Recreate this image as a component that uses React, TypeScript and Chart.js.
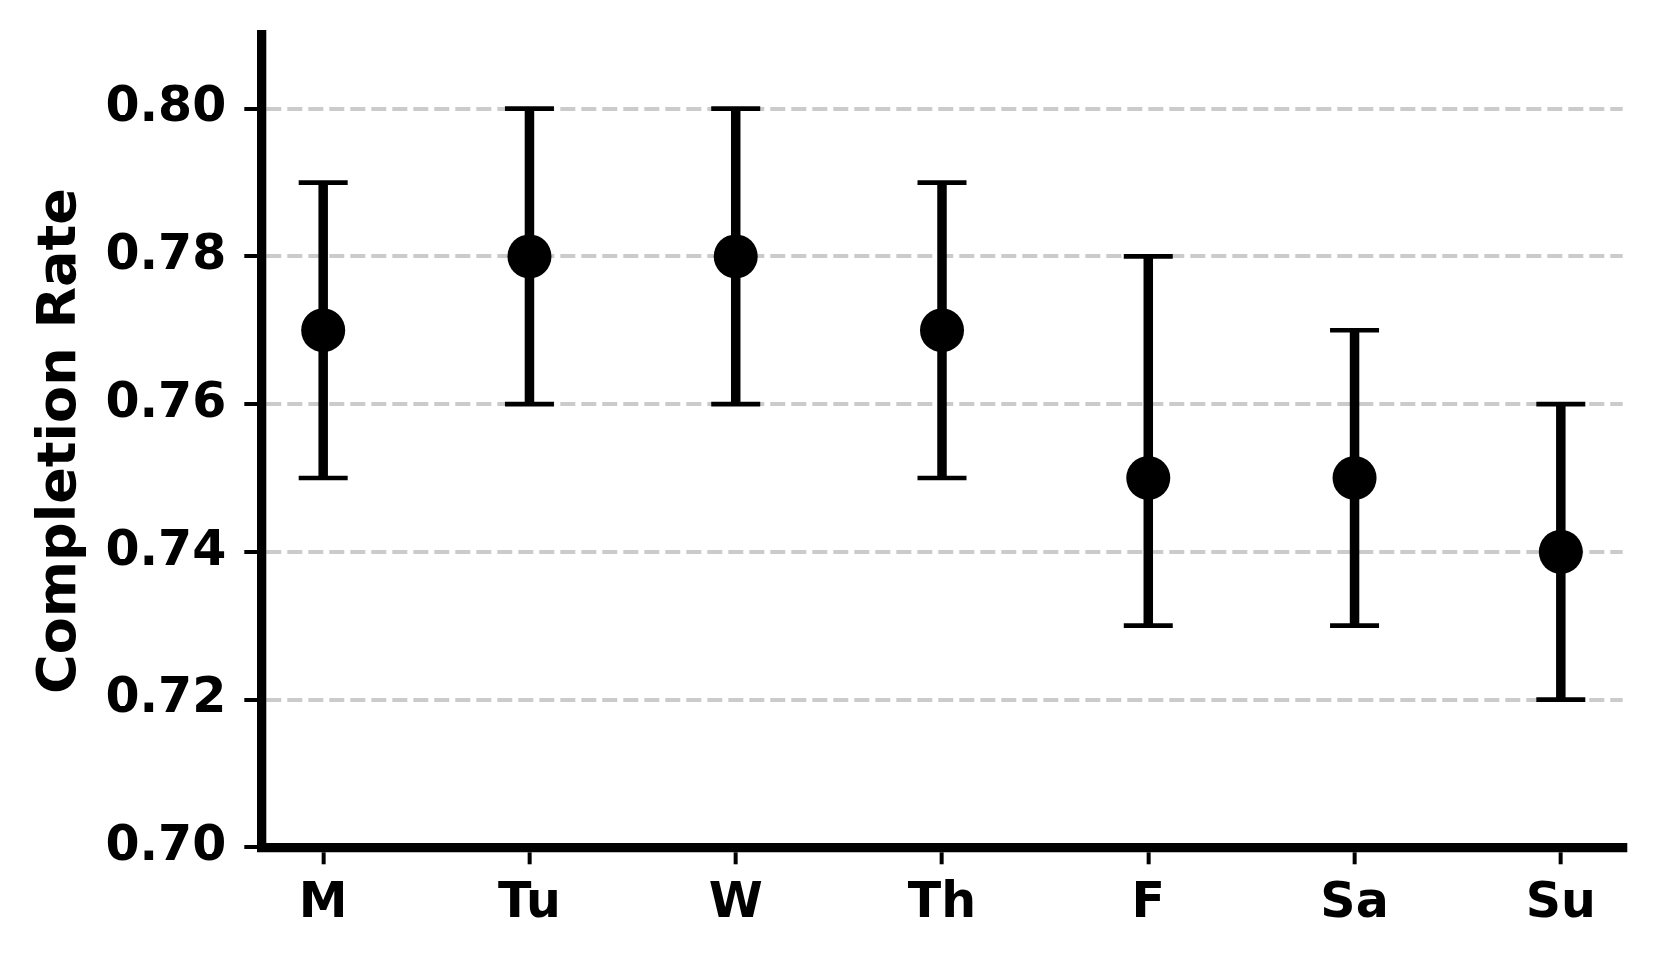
import React, { useEffect, useRef } from "react";
import { Chart, registerables } from "chart.js";

Chart.register(...registerables);

const days = ["M", "Tu", "W", "Th", "F", "Sa", "Su"];
const means = [0.77, 0.78, 0.78, 0.77, 0.75, 0.75, 0.74];
const lows = [0.75, 0.76, 0.76, 0.75, 0.73, 0.73, 0.72];
const highs = [0.79, 0.8, 0.8, 0.79, 0.78, 0.77, 0.76];
const yTicks = [0.7, 0.72, 0.74, 0.76, 0.78, 0.8];
const yMin = 0.7;
const yMax = 0.81;
const xMin = -0.3;
const xMax = 6.3;
const yTitle = "Completion Rate";

const FONT = "'DejaVu Sans', 'Liberation Sans', sans-serif";

const errorBarPlugin = {
  id: "errorBars",
  beforeDatasetsDraw(chart: any) {
    const { ctx } = chart;
    const x = chart.scales.x;
    const y = chart.scales.y;
    ctx.save();
    ctx.strokeStyle = "#000";
    ctx.lineCap = "butt";
    days.forEach((_, i) => {
      const px = x.getPixelForValue(i);
      const pl = y.getPixelForValue(lows[i]);
      const ph = y.getPixelForValue(highs[i]);
      ctx.lineWidth = 9.5;
      ctx.beginPath();
      ctx.moveTo(px, pl);
      ctx.lineTo(px, ph);
      ctx.stroke();
      ctx.lineWidth = 4.7;
      [pl, ph].forEach((py) => {
        ctx.beginPath();
        ctx.moveTo(px - 24.5, py);
        ctx.lineTo(px + 24.5, py);
        ctx.stroke();
      });
    });
    ctx.restore();
  },
};

export default function App() {
  const canvasRef = useRef<HTMLCanvasElement | null>(null);

  useEffect(() => {
    if (!canvasRef.current) return;
    const chart = new Chart(canvasRef.current, {
      type: "scatter",
      data: {
        datasets: [
          {
            data: means.map((m, i) => ({ x: i, y: m })),
            backgroundColor: "#000",
            borderColor: "#000",
            borderWidth: 0,
            pointRadius: 22,
            pointHoverRadius: 22,
          },
        ],
      },
      options: {
        responsive: false,
        animation: false,
        devicePixelRatio: 1,
        events: [],
        layout: { padding: { top: 34.8, right: 36.3, left: 0, bottom: 0 } },
        plugins: {
          legend: { display: false },
          tooltip: { enabled: false },
          title: { display: false },
        },
        scales: {
          x: {
            type: "linear",
            min: xMin,
            max: xMax,
            afterBuildTicks: (scale: any) => {
              scale.ticks = days.map((_, i) => ({ value: i }));
            },
            afterFit: (scale: any) => {
              scale.height = 964 - 847.3;
              scale.paddingLeft = 0;
              scale.paddingRight = 0;
            },
            ticks: {
              autoSkip: false,
              maxRotation: 0,
              minRotation: 0,
              padding: 10.5,
              color: "#000",
              font: { family: FONT, size: 49, weight: "bold" },
              callback: (v: any) => days[Math.round(Number(v))] ?? "",
            },
            grid: {
              drawOnChartArea: false,
              drawTicks: true,
              tickLength: 17,
              tickWidth: 4,
              tickColor: "#000",
              lineWidth: 9.3,
              color: "#000",
            },
            border: { display: true, color: "#000", width: 9.3 },
          },
          y: {
            type: "linear",
            min: yMin,
            max: yMax,
            afterBuildTicks: (scale: any) => {
              scale.ticks = yTicks.map((v) => ({ value: v }));
            },
            afterFit: (scale: any) => {
              scale.width = 261.3;
              scale.paddingTop = 0;
              scale.paddingBottom = 0;
            },
            ticks: {
              padding: 18,
              color: "#000",
              font: { family: FONT, size: 49, weight: "bold" },
              callback: (v: any) => Number(v).toFixed(2),
            },
            title: {
              display: true,
              text: yTitle,
              color: "#000",
              font: { family: FONT, size: 54, weight: "bold" },
              padding: { top: 29, bottom: 0 },
            },
            grid: {
              drawOnChartArea: true,
              drawTicks: true,
              tickLength: 17,
              tickWidth: 4,
              tickColor: "#000",
              lineWidth: 4,
              color: (ctx: any) =>
                ctx.tick && Math.abs(ctx.tick.value - yMin) < 1e-9
                  ? "rgba(0,0,0,0)"
                  : "#cbcbcb",
            },
            border: { display: true, color: "#000", width: 9.3, dash: [15, 6] },
          },
        },
      },
      plugins: [errorBarPlugin],
    } as any);
    return () => chart.destroy();
  }, []);

  return (
    <div style={{ position: "absolute", left: 0, top: 0, width: 1659, height: 964, background: "#fff" }}>
      <canvas ref={canvasRef} width={1659} height={964} style={{ width: 1659, height: 964, display: "block" }} />
    </div>
  );
}
